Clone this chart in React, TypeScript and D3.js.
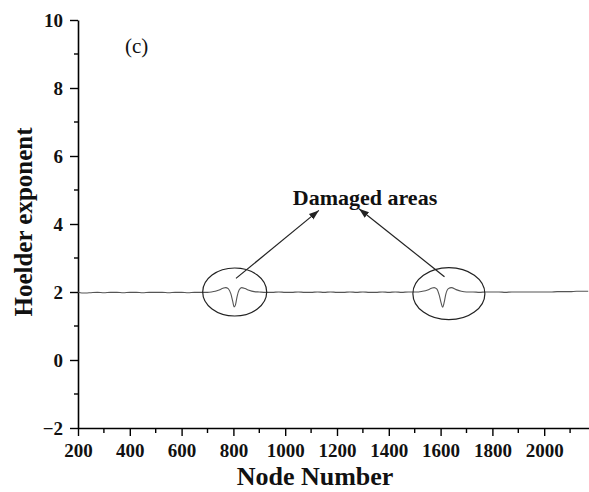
import { useEffect, useRef } from 'react'
import * as d3 from 'd3'

// Node positions and Hoelder exponent values
const nodes = [
	200, 215, 230, 250, 275, 300, 325, 350, 375, 400, 425, 450, 475, 500, 525, 550, 575, 600,
	625, 650, 675, 700, 715, 730, 745, 760, 770, 780, 790, 797, 803, 808, 814, 822, 832, 845,
	860, 880, 900, 925, 950, 975, 1000, 1025, 1050, 1075, 1100, 1125, 1150, 1175, 1200, 1225,
	1250, 1275, 1300, 1325, 1350, 1375, 1400, 1425, 1450, 1475, 1500, 1515, 1530, 1550, 1565,
	1575, 1585, 1595, 1602, 1608, 1614, 1620, 1630, 1642, 1660, 1680, 1700, 1725, 1750, 1775,
	1800, 1825, 1850, 1875, 1900, 1925, 1950, 1975, 2000, 2025, 2050, 2075, 2100, 2125, 2150, 2170,
]
const holder = [
	2.0, 1.97, 1.97, 1.98, 1.99, 1.98, 1.99, 1.99, 1.98, 1.99, 1.99, 1.98, 1.99, 1.99, 1.99, 1.98, 1.99, 1.99,
	1.98, 1.99, 1.99, 1.99, 2.0, 2.02, 2.06, 2.11, 2.13, 2.1, 1.95, 1.74, 1.56, 1.62, 1.86, 2.06, 2.13, 2.1,
	2.05, 2.01, 2.0, 1.99, 1.99, 2.0, 1.99, 1.99, 2.0, 1.99, 1.99, 2.0, 1.99, 2.0, 1.99, 1.99,
	2.0, 1.99, 2.0, 1.99, 1.99, 2.0, 1.99, 2.0, 1.99, 2.0, 2.0, 2.0, 2.02, 2.06, 2.11,
	2.13, 2.09, 1.9, 1.68, 1.55, 1.7, 1.93, 2.1, 2.13, 2.07, 2.02, 2.0, 2.0, 1.99, 2.0,
	2.0, 2.0, 1.99, 2.0, 2.0, 2.0, 2.0, 2.0, 2.0, 2.0, 2.01, 2.01, 2.01, 2.02, 2.02, 2.02,
]

const xMajor = [200, 400, 600, 800, 1000, 1200, 1400, 1600, 1800, 2000]
const yMajor = [-2, 0, 2, 4, 6, 8, 10]

// circled damage zones: [node, value]
const damageCenters = [
	[805, 2.0],
	[1632, 1.95],
]

const App = () => {
	const svgRef = useRef(null)

	useEffect(() => {
		const width = 589
		const height = 492
		const left = 78
		const top = 20
		const bottom = 428

		const svg = d3.select(svgRef.current)
		svg.selectAll('*').remove()
		svg.attr('width', width).attr('height', height)

		const x = d3.scaleLinear().domain([200, 2173]).range([left, width])
		const y = d3.scaleLinear().domain([-2, 10]).range([bottom, top])

		const font = '"Liberation Serif", "Times New Roman", serif'

		// arrow marker
		svg
			.append('defs')
			.append('marker')
			.attr('id', 'head')
			.attr('viewBox', '0 0 10 10')
			.attr('refX', 10)
			.attr('refY', 5)
			.attr('markerWidth', 10)
			.attr('markerHeight', 10)
			.attr('markerUnits', 'userSpaceOnUse')
			.attr('orient', 'auto')
			.append('path')
			.attr('d', 'M0,1.5 L10,5 L0,8.5 Z')
			.attr('fill', '#222')

		// X axis
		const xAxis = svg
			.append('g')
			.attr('transform', `translate(0,${bottom})`)
			.call(d3.axisBottom(x).tickValues(xMajor).tickSize(8).tickSizeOuter(0).tickFormat(d3.format('d')))
		xAxis.attr('font-family', font)
		xAxis.select('.domain').attr('stroke-width', 1.6)
		xAxis.selectAll('.tick line').attr('stroke-width', 1.4)
		xAxis
			.selectAll('text')
			.attr('dy', '0.95em')
			.style('font-family', font)
			.style('font-weight', 'bold')
			.style('font-size', '19px')
			.style('fill', '#111')
		xAxis
			.selectAll('.minor')
			.data(d3.range(300, 2173, 200))
			.enter()
			.append('line')
			.attr('x1', (d) => x(d))
			.attr('x2', (d) => x(d))
			.attr('y1', 0)
			.attr('y2', 5)
			.attr('stroke', '#000')
			.attr('stroke-width', 1.4)

		// Y axis
		const yAxis = svg
			.append('g')
			.attr('transform', `translate(${left},0)`)
			.call(d3.axisLeft(y).tickValues(yMajor).tickSize(8).tickSizeOuter(0).tickPadding(7))
		yAxis.attr('font-family', font)
		yAxis.select('.domain').attr('stroke-width', 1.6)
		yAxis.selectAll('.tick line').attr('stroke-width', 1.4)
		yAxis
			.selectAll('text')
			.style('font-family', font)
			.style('font-weight', 'bold')
			.style('font-size', '19px')
			.style('fill', '#111')
		yAxis
			.selectAll('.minor')
			.data([-1, 1, 3, 5, 7, 9])
			.enter()
			.append('line')
			.attr('x1', -4)
			.attr('x2', 0)
			.attr('y1', (d) => y(d))
			.attr('y2', (d) => y(d))
			.attr('stroke', '#000')
			.attr('stroke-width', 1.4)

		// Data line
		const line = d3
			.line()
			.x((d) => x(d[0]))
			.y((d) => y(d[1]))
			.curve(d3.curveMonotoneX)
		svg
			.append('path')
			.datum(nodes.map((n, i) => [n, holder[i]]))
			.attr('d', line)
			.attr('fill', 'none')
			.attr('stroke', '#555')
			.attr('stroke-width', 1.1)

		// Ellipses around damaged zones
		svg
			.selectAll('.zone')
			.data(damageCenters)
			.enter()
			.append('ellipse')
			.attr('cx', (d) => x(d[0]))
			.attr('cy', (d) => y(d[1]))
			.attr('rx', (d, i) => (i === 0 ? 32 : 36))
			.attr('ry', (d, i) => (i === 0 ? 24 : 26))
			.attr('fill', 'none')
			.attr('stroke', '#222')
			.attr('stroke-width', 1.2)

		// Arrows to label
		const arrows = [
			[[810, 2.4], [1130, 4.4]],
			[[1615, 2.45], [1285, 4.45]],
		]
		arrows.forEach(([a, b]) => {
			svg
				.append('line')
				.attr('x1', x(a[0]))
				.attr('y1', y(a[1]))
				.attr('x2', x(b[0]))
				.attr('y2', y(b[1]))
				.attr('stroke', '#222')
				.attr('stroke-width', 1.2)
				.attr('marker-end', 'url(#head)')
		})

		svg
			.append('text')
			.attr('x', 365)
			.attr('y', 205)
			.attr('text-anchor', 'middle')
			.style('font-family', font)
			.style('font-weight', 'bold')
			.style('font-size', '22px')
			.style('fill', '#111')
			.text('Damaged areas')

		svg
			.append('text')
			.attr('x', 125)
			.attr('y', 53)
			.style('font-family', font)
			.style('font-size', '21px')
			.style('fill', '#111')
			.text('(c)')

		// Axis titles
		svg
			.append('text')
			.attr('x', 315)
			.attr('y', 485)
			.attr('text-anchor', 'middle')
			.style('font-family', font)
			.style('font-weight', 'bold')
			.style('font-size', '26px')
			.style('fill', '#111')
			.text('Node Number')

		svg
			.append('text')
			.attr('transform', `translate(32,222) rotate(-90)`)
			.attr('text-anchor', 'middle')
			.style('font-family', font)
			.style('font-weight', 'bold')
			.style('font-size', '25px')
			.style('fill', '#111')
			.text('Hoelder exponent')
	}, [])

	return <svg ref={svgRef} style={{ position: 'absolute', left: 0, top: 0, background: '#fff' }}></svg>
}

export default App
